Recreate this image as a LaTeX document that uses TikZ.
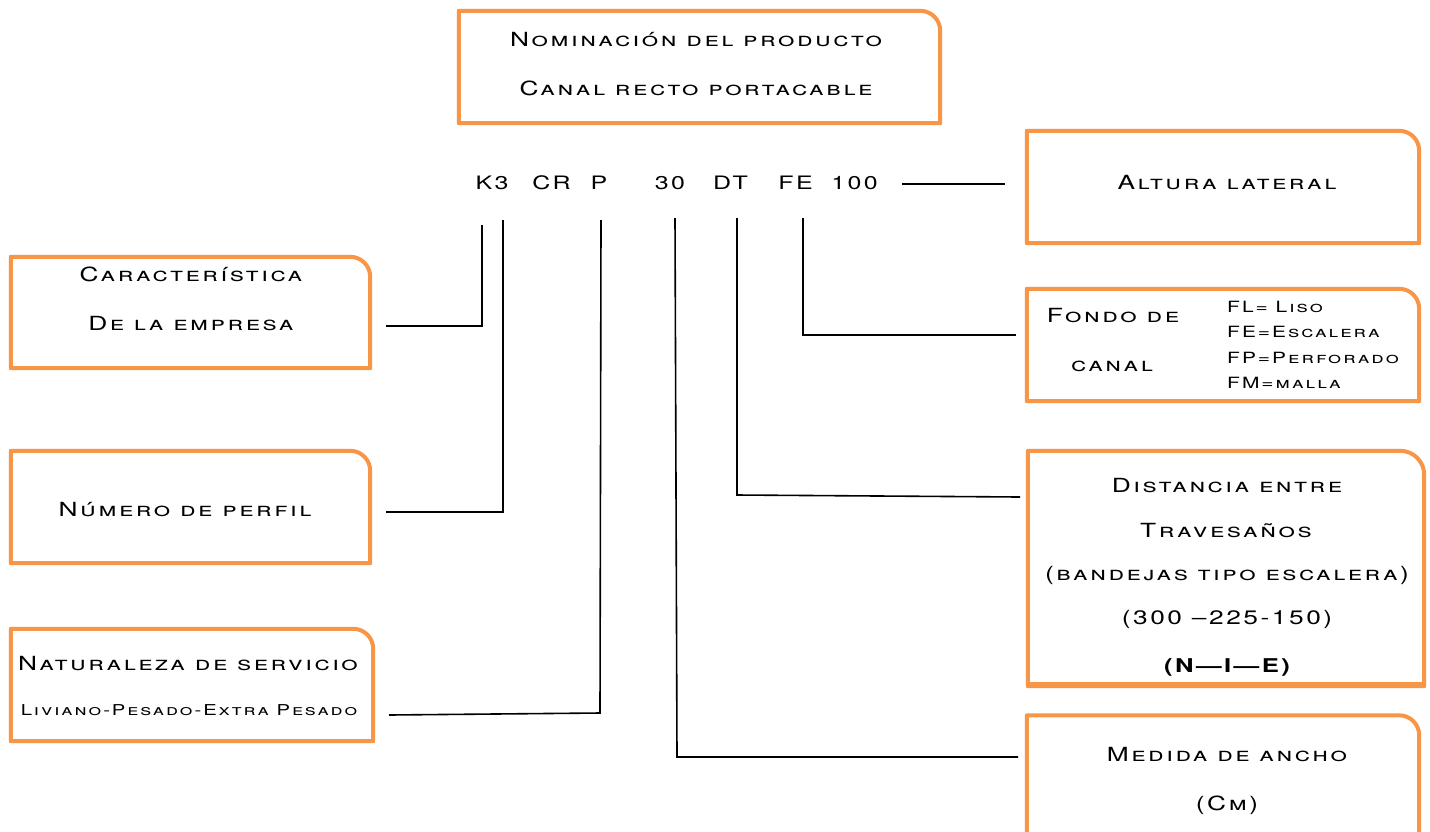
\documentclass[tikz,border=0pt]{standalone}
\usepackage{fontspec}
\newfontfamily\lab{TeX Gyre Heros}[FakeStretch=1.35,LetterSpace=13]
\definecolor{boxorange}{RGB}{247,150,70}
\newcommand\orframe[2]{\draw[boxframe] (#1.south west) -- (#1.north west) -- ([xshift=-#2]#1.north east) arc[start angle=90,end angle=0,radius=#2] -- (#1.south east) -- cycle;}
\tikzset{
  boxframe/.style={draw=boxorange,line width=4pt,line join=round},
  slot/.style={draw=none,inner sep=0pt,minimum width=#1},
  lbl/.style={inner sep=0pt,anchor=base,font=\lab\fontsize{19.5}{22}\selectfont\scshape},
  sml/.style={inner sep=0pt,anchor=base,font=\lab\fontsize{15.5}{18}\selectfont\scshape},
  code/.style={inner sep=0pt,anchor=base,font=\lab\fontsize{18.5}{21}\selectfont},
  conn/.style={draw=black,line width=1.6pt},
}
\begin{document}
\begin{tikzpicture}[x=1pt,y=1pt]
\useasboundingbox (0,0) rectangle (1430,-831);
\clip (0,0) rectangle (1430,-831);
\fill[white] (0,0) rectangle (1430,-831);
% box slots
\node[slot=481pt,minimum height=112pt] (nom) at (699.5,-67) {};
\node[slot=392pt,minimum height=112pt] (alt) at (1223,-187) {};
\node[slot=359pt,minimum height=111pt] (car) at (190.5,-312.5) {};
\node[slot=359pt,minimum height=112pt] (num) at (190.5,-507) {};
\node[slot=362pt,minimum height=112pt] (nat) at (192,-685) {};
\node[slot=392pt,minimum height=112pt] (fon) at (1223,-345) {};
\node[slot=396pt,minimum height=235pt] (dis) at (1226,-568.5) {};
\node[slot=392pt,minimum height=121pt] (med) at (1223,-776) {};
\orframe{nom}{20pt}
\orframe{alt}{20pt}
\orframe{car}{20pt}
\orframe{num}{20pt}
\orframe{nat}{20pt}
\orframe{fon}{20pt}
\orframe{dis}{24pt}
\draw[draw=boxorange,line width=6pt] ([yshift=1pt]dis.south west) -- ([yshift=1pt]dis.south east);
\orframe{med}{20pt}
% texts
\node[lbl] (nomA) at (696,-46) {Nominación del producto};
\node[lbl] (nomB) at (696,-95) {Canal recto portacable};
\node[lbl] (altA) at (1227,-189) {Altura lateral};
\node[lbl] (carA) at (191,-281) {Característica};
\node[lbl] (carB) at (191,-330) {De la empresa};
\node[lbl] (numA) at (185,-516) {Número de perfil};
\node[lbl] (natA) at (188,-670) {Naturaleza de servicio};
\node[sml,font=\lab\fontsize{15}{18}\selectfont\scshape] (natB) at (189,-715) {Liviano-Pesado-Extra Pesado};
\node[lbl] (fonA) at (1113,-322) {Fondo de};
\node[lbl] (fonB) at (1112,-371) {canal};
\node[sml,anchor=base west] (fl) at (1227,-312) {FL= Liso};
\node[sml,anchor=base west] (fe2) at (1227,-337) {FE=Escalera};
\node[sml,anchor=base west] (fp) at (1227,-363) {FP=Perforado};
\node[sml,anchor=base west] (fm) at (1227,-388) {FM=malla};
\node[lbl] (disA) at (1227,-492) {Distancia entre};
\node[lbl] (disB) at (1226,-537) {Travesaños};
\node[lbl] (disC) at (1227,-580) {(bandejas tipo escalera)};
\node[lbl] (disD) at (1227,-624) {(300 –225-150)};
\node[lbl,font=\lab\fontsize{19}{22}\selectfont\bfseries] (disE) at (1227,-672) {(N—I—E)};
\node[lbl] (medA) at (1227,-761) {Medida de ancho};
\node[lbl] (medB) at (1227,-810) {(Cm)};
% code line
\node[code] (k3) at (492,-189) {K3};
\node[code] (cr) at (551.5,-189) {CR};
\node[code] (p) at (599,-189) {P};
\node[code] (n30) at (670,-189) {30};
\node[code] (dt) at (730.5,-189) {DT};
\node[code] (fe) at (795.5,-189) {FE};
\node[code] (n100) at (854.5,-189) {100};
% connector ends
\coordinate (cK) at (482,-225);
\coordinate (cCar) at (386,-326);
\coordinate (c3) at (503,-220);
\coordinate (cNum) at (386,-512);
\coordinate (cP) at (601,-220);
\coordinate (cPb) at (600,-713);
\coordinate (cNat) at (389,-715);
\coordinate (c30) at (675,-218);
\coordinate (c30b) at (677,-757);
\coordinate (cMed) at (1018,-757);
\coordinate (cDT) at (737,-218);
\coordinate (cDTb) at (737,-495);
\coordinate (cDis) at (1020,-497);
\coordinate (cFE) at (803,-218);
\coordinate (cFon) at (1016,-335);
\coordinate (c100) at (902,-184);
\coordinate (cAlt) at (1005,-184);
\draw[conn] (cK) |- (cCar);
\draw[conn] (c3) |- (cNum);
\draw[conn] (cP) -- (cPb) -- (cNat);
\draw[conn] (c30) -- (c30b) -- (cMed);
\draw[conn] (cDT) -- (cDTb) -- (cDis);
\draw[conn] (cFE) |- (cFon);
\draw[conn] (c100) -- (cAlt);
\end{tikzpicture}
\end{document}
